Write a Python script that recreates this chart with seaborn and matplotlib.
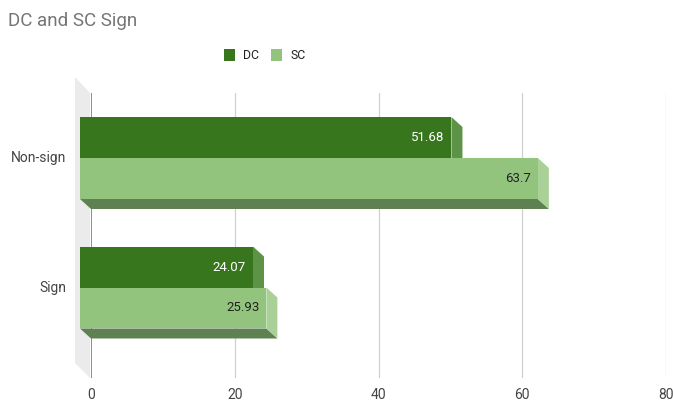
import matplotlib
matplotlib.use("Agg")
import numpy as np
import pandas as pd
import seaborn as sns
import matplotlib.pyplot as plt
from matplotlib.patches import Polygon, Patch
from matplotlib.transforms import offset_copy, IdentityTransform

# ---- data ----
categories = ["Non-sign", "Sign"]
series = ["DC", "SC"]
dc_values = [51.68, 24.07]
sc_values = [63.7, 25.93]
x_ticks = [0, 20, 40, 60, 80]
title = "DC and SC Sign"

sns.set_theme(style="white")
plt.rcParams["font.family"] = ["Roboto", "DejaVu Sans"]

W, H = 673, 401
fig = plt.figure(figsize=(W / 100, H / 100), dpi=100)
ax_left, ax_right, ax_top, ax_bot = 91, 666, 93, 378
ax = fig.add_axes([ax_left / W, 1 - ax_bot / H, (ax_right - ax_left) / W, (ax_bot - ax_top) / H])

df = pd.DataFrame({
    "category": categories * 2,
    "series": [series[0]] * len(categories) + [series[1]] * len(categories),
    "value": dc_values + sc_values,
})

front_colors = {"DC": "#38761d", "SC": "#93c47d"}
side_colors = {"DC": "#5d9347", "SC": "#a9d197"}
bottom_color = "#5f8050"

sns.barplot(data=df, x="value", y="category", hue="series", orient="h",
            palette=front_colors, hue_order=series, order=categories,
            width=0.633, saturation=1, ax=ax, legend=False,
            edgecolor="none", linewidth=0, zorder=3)

ax.set_xlim(0, 80)
ax.set_ylim(1.6216, -0.5792)
for s in ax.spines.values():
    s.set_visible(False)
ax.grid(False)
ax.set_xlabel("")
ax.set_ylabel("")

# gridlines (back plane)
for t in x_ticks:
    if t == 0:
        ax.axvline(t, color="#6f6f6f", lw=1.1, zorder=1)
    else:
        ax.axvline(t, color="#d0d0d0", lw=0.9, zorder=1)

# 3D depth offsets (pixels)
DX, DY = 11, 10
front_tr = offset_copy(ax.transData, fig=fig, x=-DX, y=DY, units="dots")
px_per_unit_y = (ax_bot - ax_top) / abs(ax.get_ylim()[0] - ax.get_ylim()[1])
dy_data = DY / px_per_unit_y

# left wall
yl = ax.get_ylim()
(bx0, by_bot) = ax.transData.transform((0, yl[0]))
(_, by_top) = ax.transData.transform((0, yl[1]))
wall = Polygon([(bx0 - 16, by_top + 16), (bx0 - 1, by_top), (bx0 - 1, by_bot), (bx0 - 16, by_bot + 15)],
               closed=True, transform=IdentityTransform(), facecolor="#ebebeb",
               edgecolor="none", zorder=0.5, clip_on=False)
ax.add_patch(wall)

label_colors = {"DC": "white", "SC": "#222222"}
for s, cont in zip(series, ax.containers):
    for p in cont.patches:
        x0, y0 = p.get_x(), p.get_y()
        x1, y1 = x0 + p.get_width(), y0 + p.get_height()
        (X0, Ya) = ax.transData.transform((x0, y0))
        (X1, Yb) = ax.transData.transform((x1, y1))
        Ytop, Ybot = max(Ya, Yb), min(Ya, Yb)
        p.set_transform(front_tr)
        p.set_clip_on(False)
        # right face
        rf = Polygon([(X1 - DX, Ytop + DY), (X1, Ytop), (X1, Ybot), (X1 - DX, Ybot + DY)],
                     closed=True, transform=IdentityTransform(),
                     facecolor=side_colors[s], edgecolor="none", zorder=2.5, clip_on=False)
        ax.add_patch(rf)
        # bottom face
        bf = Polygon([(X0 - DX, Ybot + DY), (X1 - DX, Ybot + DY), (X1, Ybot), (X0, Ybot)],
                     closed=True, transform=IdentityTransform(),
                     facecolor=bottom_color, edgecolor="none", zorder=2.4, clip_on=False)
        ax.add_patch(bf)
        v = p.get_width()
        yc = y0 + p.get_height() / 2
        ax.annotate(f"{v:g}", xy=(v, yc), xytext=(-DX - 7, DY), textcoords="offset pixels",
                    ha="right", va="center", fontsize=9.5, color=label_colors[s], zorder=5)

ax.set_xticks(x_ticks)
ax.set_xticklabels([str(t) for t in x_ticks])
ax.tick_params(axis="x", length=0, pad=7, labelsize=10, labelcolor="#444444")
ax.set_yticks([i - dy_data * 1.15 for i in range(len(categories))])
ax.set_yticklabels(categories)
ax.tick_params(axis="y", length=0, pad=18, labelsize=10, labelcolor="#444444")

handles = [Patch(facecolor=front_colors[s], edgecolor="none", label=s) for s in series]
fig.legend(handles=handles, loc="center left", bbox_to_anchor=(224 / W, 1 - 55.5 / H),
           ncol=2, frameon=False, fontsize=8.8, handlelength=0.9, handleheight=1.1,
           handletextpad=0.65, columnspacing=1.0, borderpad=0, borderaxespad=0,
           labelcolor="#222222")

fig.text(8 / W, 1 - 21 / H, title, fontsize=13.5, color="#757575", va="center", ha="left")

fig.savefig("out.png", dpi=100)
